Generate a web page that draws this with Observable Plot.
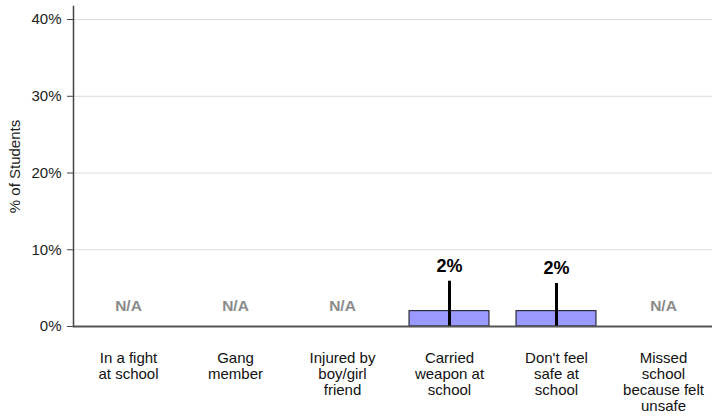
<!DOCTYPE html>
<html>
<head>
<meta charset="utf-8">
<script src="https://cdn.jsdelivr.net/npm/d3@7"></script>
<script src="https://cdn.jsdelivr.net/npm/@observablehq/plot@0.6"></script>
<style>
  html, body { margin: 0; padding: 0; background: #fff; }
  svg { display: block; }
</style>
</head>
<body>
<div id="chart"></div>
<script>
const categories = ["In a fight at school", "Gang member", "Injured by boy/girl friend", "Carried weapon at school", "Don't feel safe at school", "Missed school because felt unsafe"];
const tickLabels = ["In a fight\nat school", "Gang\nmember", "Injured by\nboy/girl\nfriend", "Carried\nweapon at\nschool", "Don't feel\nsafe at\nschool", "Missed\nschool\nbecause felt\nunsafe"];
const values = [null, null, null, 2, 2, null];
const lower = [null, null, null, 0, 0, null];
const upper = [null, null, null, 5.9, 5.6, null];
const valueLabels = ["N/A", "N/A", "N/A", "2%", "2%", "N/A"];
const yTicks = [0, 10, 20, 30, 40];

const data = categories.map((c, i) => ({cat: c, tick: tickLabels[i], value: values[i], lower: lower[i], upper: upper[i], label: valueLabels[i]}));
const present = data.filter(d => d.value != null);
const missing = data.filter(d => d.value == null);

const font = "'Liberation Sans', Arial, sans-serif";

const chart = Plot.plot({
  width: 715,
  height: 416,
  marginLeft: 73,
  marginRight: 3,
  marginTop: 6,
  marginBottom: 90,
  style: {fontFamily: font, color: "#222", background: "#fff"},
  x: {domain: categories, range: [73, 718.6], paddingInner: 0.25, paddingOuter: 0.125, axis: null},
  y: {domain: [0, 41.7], axis: null},
  marks: [
    Plot.gridY(yTicks.filter(d => d > 0), {stroke: "#dcdcdc", strokeOpacity: 1, strokeWidth: 1}),
    Plot.axisY({ticks: yTicks, tickFormat: d => d + "%", tickSize: 6, tickPadding: 6, fontSize: 15, label: null, stroke: "#444", fill: "#222"}),
    Plot.text(["% of Students"], {frameAnchor: "left", dx: -58, rotate: -90, textAnchor: "middle", fontSize: 15, fill: "#222"}),
    Plot.barY(present, {x: "cat", y1: 0, y2: "value", fill: "#9999ff", stroke: "#111", strokeWidth: 1}),
    Plot.ruleX(present, {x: "cat", y1: "lower", y2: "upper", stroke: "#000", strokeWidth: 3}),
    Plot.text(present, {x: "cat", y: "upper", text: "label", dy: -15, fontSize: 18, fontWeight: "bold", fill: "#000"}),
    Plot.text(missing, {x: "cat", y: 0, text: "label", dy: -20, fontSize: 15.5, fontWeight: "bold", fill: "#8a8a8a"}),
    Plot.frame({anchor: "left", stroke: "#444", strokeWidth: 1.5}),
    Plot.ruleY([0], {stroke: "#555", strokeWidth: 2}),
    Plot.text(data, {x: "cat", text: "tick", frameAnchor: "bottom", dy: 25, lineAnchor: "top", lineHeight: 16 / 15, fontSize: 15, fill: "#111"})
  ]
});
document.getElementById("chart").appendChild(chart);
</script>
</body>
</html>
